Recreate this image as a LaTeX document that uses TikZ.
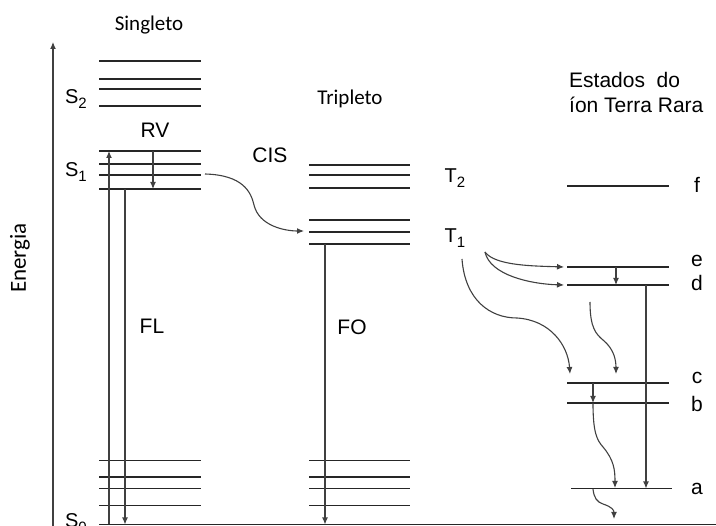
\documentclass[tikz,border=0pt]{standalone}
\usepackage{fontspec}
\setmainfont{Liberation Sans}
\newfontfamily\calfont{Carlito}
\usetikzlibrary{arrows.meta}
\newcommand\sbt[1]{\raisebox{-0.28em}{\fontsize{15}{15}\selectfont #1}}
\begin{document}
\begin{tikzpicture}[x=1pt,y=-1pt,
  lvl/.style={line width=1.15pt,draw=black!85},
  conn/.style={line width=1.1pt,draw=black!75,-{Latex[length=7pt,width=6pt]}},
  lab/.style={inner sep=0pt,font=\fontsize{21}{24}\selectfont},
  clab/.style={inner sep=0pt,font=\calfont\fontsize{21}{24}\selectfont},
  slab/.style={inner sep=0pt,font=\fontsize{20}{24}\selectfont}]
\useasboundingbox (0,0) rectangle (716,526);
\clip (0,0) rectangle (716,526);
% energy axis
\coordinate (ax0) at (53,528);
\coordinate (ax1) at (53,42);
\draw[conn] (ax0) -- (ax1);
\node[clab,rotate=90,font=\calfont\fontsize{23}{26}\selectfont] (energia) at (20,258) {Energia};
% baseline
\coordinate (b0) at (99,524.5);
\coordinate (b1) at (716,524.5);
\draw[lvl] (b0) -- (b1);
% singlet levels
\foreach \y in {61,79,89,106,151,164,175,189,460.5,477,488.5,505.5}
  \draw[lvl] (99,\y) -- (201,\y);
% triplet levels
\foreach \y in {165,175,188,220,232,244,460.5,477,488.5,505.5}
  \draw[lvl] (309,\y) -- (410,\y);
% rare earth levels
\coordinate (fL) at (567,186); \coordinate (fR) at (669,186);
\coordinate (eL) at (567,267); \coordinate (eR) at (669,267);
\coordinate (dL) at (567,285); \coordinate (dR) at (669,285);
\coordinate (cL) at (567,383); \coordinate (cR) at (669,383);
\coordinate (bL) at (567,403); \coordinate (bR) at (669,403);
\coordinate (aL) at (571,488.5); \coordinate (aR) at (672,488.5);
\foreach \n in {f,e,d,c,b,a} \draw[lvl] (\n L) -- (\n R);
% labels
\node[clab] (singleto) at (149,25) {Singleto};
\node[clab] (tripleto) at (350,99) {Tripleto};
\node[slab] (S2) at (76,99) {S\sbt{2}};
\node[slab] (S1) at (76,172) {S\sbt{1}};
\node[slab] (S0) at (76,523) {S\sbt{0}};
\node[lab] (RV) at (155,130) {RV};
\node[lab] (CIS) at (270,155) {CIS};
\node[slab] (T2) at (455,178) {T\sbt{2}};
\node[slab] (T1) at (455,238) {T\sbt{1}};
\node[lab] (FL) at (152,326) {FL};
\node[lab] (FO) at (352,327) {FO};
\node[lab,anchor=base west] (est1) at (569,88) {Estados\ \ do};
\node[lab,anchor=base west] (est2) at (569,112.5) {íon Terra Rara};
\node[lab,anchor=base] (lf) at (697,193) {f};
\node[lab,anchor=base] (le) at (697,267) {e};
\node[lab,anchor=base] (ld) at (697,291) {d};
\node[lab,anchor=base] (lc) at (697,384) {c};
\node[lab,anchor=base] (lb) at (697,412) {b};
\node[lab,anchor=base] (la) at (697,495) {a};
% singlet transitions
\coordinate (up0) at (109,524.5); \coordinate (up1) at (109,151);
\draw[conn] (up0) -- (up1);
\coordinate (rv0) at (153,151); \coordinate (rv1) at (153,189);
\draw[conn] (rv0) -- (rv1);
\coordinate (fl0) at (125,189); \coordinate (fl1) at (125,524.5);
\draw[conn] (fl0) -- (fl1);
% triplet FO
\coordinate (fo0) at (325,244); \coordinate (fo1) at (325,524.5);
\draw[conn] (fo0) -- (fo1);
% CIS
\coordinate (cis0) at (205,174); \coordinate (cis1) at (304,231);
\draw[conn] (cis0) .. controls (243,175) and (251,192) .. (254,205)
  .. controls (259,226) and (285,231) .. (cis1);
% T1 to ion
\coordinate (t1a) at (485,252);
\coordinate (t1b) at (462,259);
\coordinate (eIn) at (564,267);
\coordinate (dIn) at (564,285);
\draw[conn] (t1a) .. controls (495,266) and (535,266) .. (eIn);
\draw[conn] (t1a) .. controls (490,275) and (530,284) .. (dIn);
\coordinate (cIn) at (570,374);
\draw[conn] (t1b) .. controls (465,300) and (490,318) .. (517,318)
  .. controls (550,320) and (568,345) .. (cIn);
% ion transitions
\coordinate (ed0) at (616,267); \coordinate (ed1) at (616,285);
\draw[conn] (ed0) -- (ed1);
\coordinate (da0) at (646,285); \coordinate (da1) at (646,488.5);
\draw[conn] (da0) -- (da1);
\coordinate (cb0) at (593,383); \coordinate (cb1) at (593,403);
\draw[conn] (cb0) -- (cb1);
\coordinate (w10) at (590,302); \coordinate (w11) at (616,374);
\draw[conn] (w10) .. controls (590,328) and (596,334) .. (603,340)
  .. controls (614,349) and (616,360) .. (w11);
\coordinate (w20) at (593,403); \coordinate (w21) at (615,488);
\draw[conn] (w20) .. controls (593,433) and (597,440) .. (603,447)
  .. controls (614,460) and (615,470) .. (w21);
\coordinate (w30) at (593,489); \coordinate (w31) at (614,519);
\draw[conn] (w30) .. controls (594,498) and (597,502) .. (603,504)
  .. controls (612,507) and (614,510) .. (w31);
\end{tikzpicture}
\end{document}
